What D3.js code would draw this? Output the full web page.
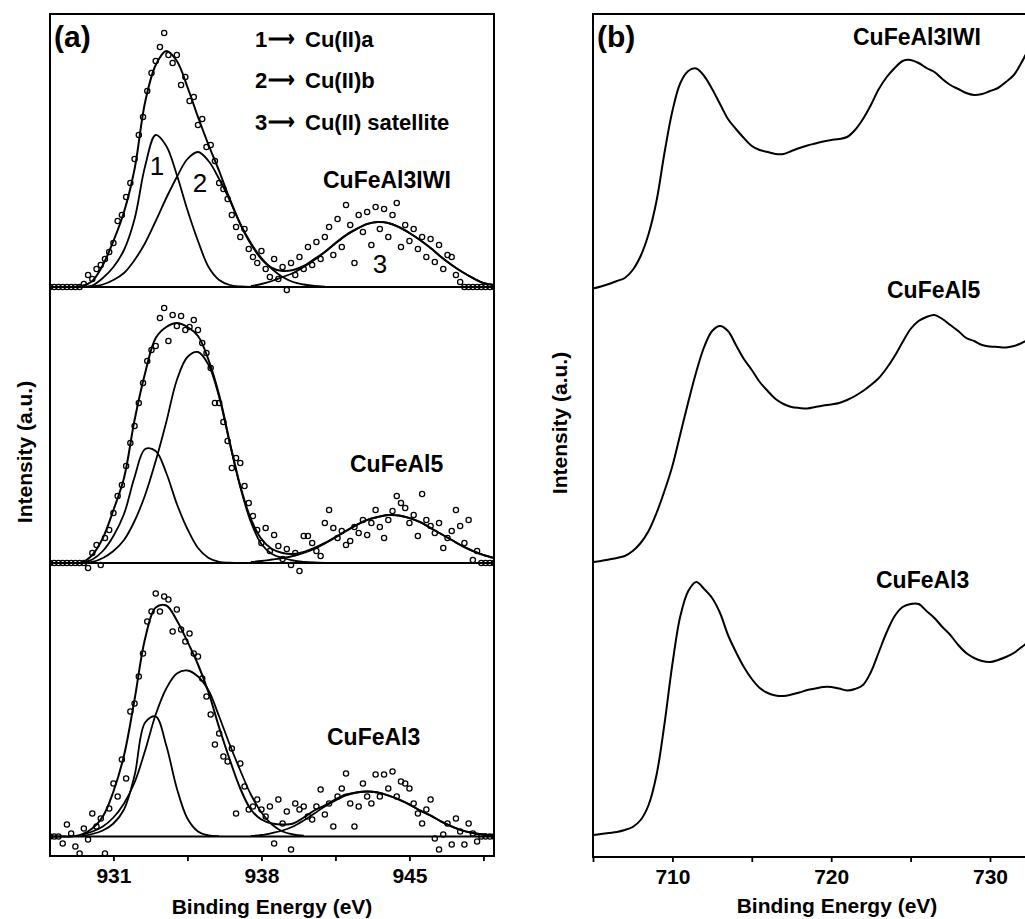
<!DOCTYPE html>
<html><head><meta charset="utf-8">
<script src="https://cdn.jsdelivr.net/npm/d3@7"></script>
<style>
body{margin:0;background:#fff}
svg{display:block}
text{font-family:"Liberation Sans",Arial,sans-serif;fill:#000}
</style>
</head><body>
<svg id="chart" width="1025" height="919"></svg>
<script>
// ---------------- DATA ----------------
// Panel (a): Cu 2p3/2 region, binding energy (eV)
const samplesA = ["CuFeAl3IWI", "CuFeAl5", "CuFeAl3"];
const offsetsA = [569, 293, 19.5];          // vertical stacking offsets (a.u.)
const envStartA = 928, envStepA = 0.5;       // envelope grid 928..949
const compStart = 929.5, satStart = 937.5, compStep = 0.5;
const ptsStartA = 928, ptsStepA = 0.2;       // raw data grid 928..949

// CuFeAl3IWI
const iwiEnvelope = [0,0,0,1,6,22,46,75,118,185,222,236,226,200,170,142,116,88,63,43,28,19,16,17,21,28,35,44,52,58,63,65,64,60,54,47,39,30,22,15,9,4,2];
const iwiPeak1 = [0,1.5,9,20,37,68,121,152,141,112,77,46,20,7,2,0.5,0];
const iwiPeak2 = [0,0.5,2.5,7,14,27,44,66,89,110,128,135,126,108,87,63,44,29,18,10,5,2.5,1,0.3];
const iwiSat = [1,3,6,10,14,20,27,35,43.5,51.5,58,63,65,64,60,54,47,39,30,22,15,9,4,2];
const iwiPoints = [
  0,0,0,0,0,0,0,0,3,12,
  8,18,22,28,35,44,66,72,90,104,
  128,152,170,196,214,226,240,254,232,224,
  232,202,210,186,190,162,168,140,142,126,
  104,98,88,72,60,50,58,38,30,24,
  36,18,10,28,8,20,-3,24,12,30,
  18,40,22,45,28,50,60,32,68,40,
  82,62,24,72,55,75,42,80,58,78,
  50,72,84,40,62,46,58,38,50,30,
  48,25,42,18,32,30,12,5,0,0,
  0,0,0,0,0,0];

// CuFeAl5
const al5Envelope = [0,0,0,0.5,8,25,53,85,143,190,225,236,240,236,227,203,168,121,77,44,24,14,10,9,11,15,20,26,32,38,43,46,48,47.5,45,41,35,29,23,17,12,8,5];
const al5Peak1 = [0.5,3.5,12,27,49,86,114,112,90,59,34,15,5,1.2,0.3,0];
const al5Peak2 = [0,1,5,12,23,42,68,102,141,183,206,211,198,166,120,76,41,19,9,5,2.5,1.2,0.5,0.2];
const al5Sat = [1,2,3.5,5,7,10,14,19.5,25.5,32,38,43,46,48,47.5,45,41,35,29,23,17,12,8,5];
const al5Points = [
  0,0,0,0,0,0,0,0,0,-5,
  10,18,-2,25,33,50,67,78,97,120,
  137,160,180,202,213,217,245,255,222,248,
  237,247,233,236,243,233,220,210,195,160,
  160,141,122,95,105,100,77,60,47,33,
  20,35,12,28,17,4,14,-2,10,-8,
  27,27,20,12,7,40,53,35,25,32,
  18,22,36,30,43,28,40,53,36,25,
  43,52,67,60,55,40,48,27,69,43,
  37,30,40,15,25,32,53,37,20,43,
  3,12,0,0,0,0];

// CuFeAl3
const al3Envelope = [0,0,0,2,8,20,45,81,137,198,229,231,216,195,172,144,109,77,48,27,17,13,12,13,19,26,31,37,42,44,45,44,41,37,32,26,21,15,10,6,3.5,2,1];
const al3Peak1 = [0.5,2.5,6,13,27,61,114,120,91,48,18,5,1,0.3];
const al3Peak2 = [1.5,5,10,19,33,54,86,122,148,163,166,160,146,120,92,66,42,24,12,5,2,0.8];
const al3Sat = [0.5,1.5,3.5,6,10,16,23,30,36,41,44,45,44,41,37,32,26,21,15,10,6,3.5,2,1];
const al3Points = [
  0,0,0,-7,12,3,-10,-17,8,-3,
  23,10,18,-17,28,53,40,77,58,125,
  133,160,183,215,225,243,225,240,237,205,
  227,207,195,203,183,180,158,140,122,92,
  103,80,75,88,23,73,50,27,30,37,
  27,20,30,-7,37,13,25,-13,33,27,
  30,20,17,30,47,22,33,10,40,48,
  63,33,10,30,53,40,33,62,40,62,
  48,65,40,55,53,48,33,23,13,27,
  37,-2,-13,2,13,-8,18,5,-8,13,
  3,-5,0,0,0,0];

const legendNums = ["1", "2", "3"];
const legendLabels = ["Cu(II)a", "Cu(II)b", "Cu(II) satellite"];
const peakLabels = ["1", "2", "3"];
const ticksA = [931, 934.5, 938, 941.5, 945, 948.5];
const tickLabelsA = [931, 938, 945];

// Panel (b): Fe 2p region
const samplesB = ["CuFeAl3IWI", "CuFeAl5", "CuFeAl3"];
const gridStartB = 705, gridStepB = 0.5;     // 705..733
const iwiFe = [568.5,570.5,573,576,579,587,601,623,656,704,
  746,774,786,788.5,781,768,753,738,728,719,
  711,707,705,703,703,706,709,711.5,713.5,715.5,
  717,718,720,727,738,752,768,780,789,796,
  797,794,789,785,778,772,768,764,762,763,
  766,769,775,782,795,810,825];
const al5Fe = [295,296,297.5,299,301,306,314,326,344,366,
  391,423,455,485,510,526,531,526,512,498,
  487,475,466,458,453,450,449,448.5,450,451.5,
  452.5,454,457,461,466,472,479,489,501,515,
  528,536,540,542,538,532,526,519,516,512,
  510.5,510,509.5,511,514,518,522];
const al3Fe = [22,23,24,25,27,30,37,52,82,133,
  193,241,266,275,268,259,244,222,205,190,
  178,169,164,161.5,161,162.5,164.5,167,168.5,170,
  170,168.5,166.5,168,172,185,205,225,241,250,
  253,253,246,239,230,222,212,204,199,196,
  195,197,200,204,210,216,222];
const ticksB = [705, 710, 715, 720, 725, 730, 735];
const tickLabelsB = [710, 720, 730];

// ---------------- DRAW ----------------
const svg = d3.select("#chart");
svg.append("rect").attr("width", 1025).attr("height", 919).attr("fill", "#fff");
const FONT = '"Liberation Sans", Arial, sans-serif';

// ===== Panel (a) =====
const xA = d3.scaleLinear().domain([928, 949]).range([50, 494]);
const yA = d3.scaleLinear().domain([0, 842]).range([856, 14]);

svg.append("clipPath").attr("id", "clipA").append("rect")
  .attr("x", xA(928)).attr("y", yA(842)).attr("width", xA(949) - xA(928)).attr("height", yA(0) - yA(842));
const gA = svg.append("g").attr("clip-path", "url(#clipA)");

const lineA = d3.line().x(d => xA(d[0])).y(d => yA(d[1])).curve(d3.curveCatmullRom.alpha(0.5));
const toPairs = (vals, start, step, off) => vals.map((v, i) => [start + step * i, v + off]);

const spectraA = [
  {env: iwiEnvelope, p1: iwiPeak1, p2: iwiPeak2, sat: iwiSat, pts: iwiPoints},
  {env: al5Envelope, p1: al5Peak1, p2: al5Peak2, sat: al5Sat, pts: al5Points},
  {env: al3Envelope, p1: al3Peak1, p2: al3Peak2, sat: al3Sat, pts: al3Points}
];

spectraA.forEach((s, k) => {
  const off = offsetsA[k];
  gA.append("line").attr("x1", xA(928)).attr("x2", xA(949))
    .attr("y1", yA(off)).attr("y2", yA(off)).attr("stroke", "#000").attr("stroke-width", 1.8);
  [[s.p1, compStart], [s.p2, compStart], [s.sat, satStart]].forEach(([vals, st]) => {
    gA.append("path").datum(toPairs(vals, st, compStep, off)).attr("d", lineA)
      .attr("fill", "none").attr("stroke", "#000").attr("stroke-width", 1.8);
  });
  gA.append("path").datum(toPairs(s.env, envStartA, envStepA, off)).attr("d", lineA)
    .attr("fill", "none").attr("stroke", "#000").attr("stroke-width", 2);
  gA.append("g").selectAll("circle").data(toPairs(s.pts, ptsStartA, ptsStepA, off)).join("circle")
    .attr("cx", d => xA(d[0])).attr("cy", d => yA(d[1])).attr("r", 2.6)
    .attr("fill", "none").attr("stroke", "#000").attr("stroke-width", 1.3);
});

svg.append("rect").attr("x", xA(928)).attr("y", yA(842))
  .attr("width", xA(949) - xA(928)).attr("height", yA(0) - yA(842))
  .attr("fill", "none").attr("stroke", "#000").attr("stroke-width", 2);

const axA = svg.append("g").attr("transform", `translate(0,${yA(0)})`)
  .call(d3.axisBottom(xA).tickValues(ticksA).tickSize(5).tickPadding(7)
    .tickFormat(d => tickLabelsA.includes(d) ? d3.format("d")(d) : ""));
axA.select(".domain").remove();
axA.selectAll(".tick line").attr("stroke-width", 1.8);
axA.selectAll("text").attr("font-size", 21).attr("font-weight", "bold").attr("font-family", FONT);

svg.append("text").attr("x", (xA(928) + xA(949)) / 2).attr("y", 914).attr("text-anchor", "middle")
  .attr("font-size", 21).attr("font-weight", "bold").text("Binding Energy (eV)");
svg.append("text").attr("transform", "translate(32,452) rotate(-90)").attr("text-anchor", "middle")
  .attr("font-size", 21).attr("font-weight", "bold").text("Intensity (a.u.)");

svg.append("text").attr("x", 54).attr("y", 47).attr("font-size", 30).attr("font-weight", "bold").text("(a)");
const legendY = [47, 88, 130];
legendNums.forEach((n, i) => {
  svg.append("text").attr("x", 255).attr("y", legendY[i]).attr("font-size", 22).attr("font-weight", "bold").text(n);
  svg.append("text").attr("x", 268).attr("y", legendY[i] - 1).attr("font-size", 22).attr("font-weight", "bold")
    .attr("font-family", '"DejaVu Sans", sans-serif').attr("textLength", 27).attr("lengthAdjust", "spacingAndGlyphs")
    .text("\u27F6");
  svg.append("text").attr("x", 305).attr("y", legendY[i]).attr("font-size", 22).attr("font-weight", "bold").text(legendLabels[i]);
});

const peakLabelPos = [[157, 175], [200, 192], [380, 273]];
peakLabels.forEach((t, i) => {
  svg.append("text").attr("x", peakLabelPos[i][0]).attr("y", peakLabelPos[i][1])
    .attr("text-anchor", "middle").attr("font-size", 26).text(t);
});

const sampleLabelPosA = [[323, 188], [350, 472], [327, 745]];
samplesA.forEach((t, i) => {
  svg.append("text").attr("x", sampleLabelPosA[i][0]).attr("y", sampleLabelPosA[i][1])
    .attr("font-size", 23).attr("font-weight", "bold").text(t);
});

// ===== Panel (b) =====
const xB = d3.scaleLinear().domain([705, 735]).range([593, 593 + 30 * 15.88]);
const yB = d3.scaleLinear().domain([0, 843]).range([857, 14]);
const lineB = d3.line().x(d => xB(d[0])).y(d => yB(d[1])).curve(d3.curveCatmullRom.alpha(0.5));

[iwiFe, al5Fe, al3Fe].forEach(vals => {
  svg.append("path").datum(vals.map((v, i) => [gridStartB + gridStepB * i, v])).attr("d", lineB)
    .attr("fill", "none").attr("stroke", "#000").attr("stroke-width", 2);
});

svg.append("rect").attr("x", xB(705)).attr("y", yB(843))
  .attr("width", xB(735) - xB(705)).attr("height", yB(0) - yB(843))
  .attr("fill", "none").attr("stroke", "#000").attr("stroke-width", 2);

const axB = svg.append("g").attr("transform", `translate(0,${yB(0)})`)
  .call(d3.axisBottom(xB).tickValues(ticksB).tickSize(5).tickPadding(7)
    .tickFormat(d => tickLabelsB.includes(d) ? d3.format("d")(d) : ""));
axB.select(".domain").remove();
axB.selectAll(".tick line").attr("stroke-width", 1.8);
axB.selectAll("text").attr("font-size", 21).attr("font-weight", "bold").attr("font-family", FONT);

svg.append("text").attr("x", 837).attr("y", 913).attr("text-anchor", "middle")
  .attr("font-size", 21).attr("font-weight", "bold").text("Binding Energy (eV)");
svg.append("text").attr("transform", "translate(567,423) rotate(-90)").attr("text-anchor", "middle")
  .attr("font-size", 21).attr("font-weight", "bold").text("Intensity (a.u.)");
svg.append("text").attr("x", 597).attr("y", 47).attr("font-size", 30).attr("font-weight", "bold").text("(b)");

const sampleLabelPosB = [[853, 45], [887, 298], [876, 588]];
samplesB.forEach((t, i) => {
  svg.append("text").attr("x", sampleLabelPosB[i][0]).attr("y", sampleLabelPosB[i][1])
    .attr("font-size", 23).attr("font-weight", "bold").text(t);
});
</script>
</body></html>
